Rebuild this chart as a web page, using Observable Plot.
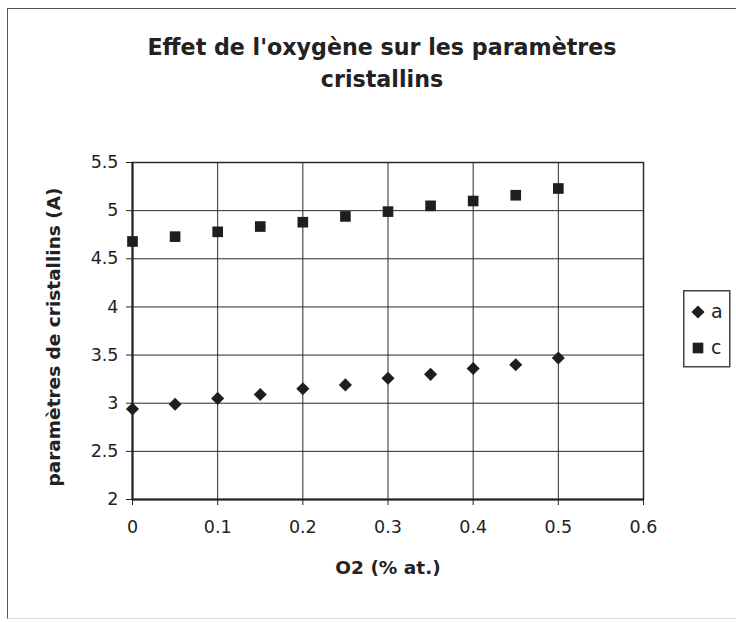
<!DOCTYPE html>
<html>
<head>
<meta charset="utf-8">
<script src="https://cdn.jsdelivr.net/npm/d3@7"></script>
<script src="https://cdn.jsdelivr.net/npm/@observablehq/plot@0.6"></script>
<style>
  html, body { margin: 0; padding: 0; background: #fff; overflow: hidden; }
  #wrap { position: relative; width: 736px; height: 622px; }
  #outer { position: absolute; left: 7px; top: 8px; width: 740px; height: 609px;
           border-left: 1.5px solid #555; border-top: 1.5px solid #555; border-bottom: 1px solid #ddd; }
  #title { position: absolute; left: 82px; top: 31px; width: 600px; text-align: center;
           font-family: "DejaVu Sans", sans-serif; font-weight: bold; font-size: 22.2px;
           line-height: 32px; color: #222; }
  #chart { position: absolute; left: 0; top: 0; }
  #legend { position: absolute; left: 683px; top: 290px; }
</style>
</head>
<body>
<div id="wrap">
  <div id="outer"></div>
  <div id="chart"></div>
  <div id="title">Effet de l'oxygène sur les paramètres<br>cristallins</div>
  <div id="legend"></div>
</div>
<script>
const o2 = [0, 0.05, 0.1, 0.15, 0.2, 0.25, 0.3, 0.35, 0.4, 0.45, 0.5];
const aValues = [2.94, 2.99, 3.05, 3.09, 3.15, 3.19, 3.26, 3.30, 3.36, 3.40, 3.47];
const cValues = [4.68, 4.73, 4.78, 4.835, 4.88, 4.94, 4.99, 5.05, 5.10, 5.16, 5.23];
const seriesNames = ["a", "c"];
const xTicks = [0, 0.1, 0.2, 0.3, 0.4, 0.5, 0.6];
const yTicks = [2, 2.5, 3, 3.5, 4, 4.5, 5, 5.5];
const xLabel = "O2 (% at.)";
const yLabel = "paramètres de cristallins (A)";

const dataA = o2.map((x, i) => ({x, y: aValues[i]}));
const dataC = o2.map((x, i) => ({x, y: cValues[i]}));
const ink = "#1e1e1e";

const chart = Plot.plot({
  width: 736,
  height: 622,
  marginLeft: 132,
  marginRight: 93,
  marginTop: 162,
  marginBottom: 123,
  style: {fontFamily: "DejaVu Sans, sans-serif", fontSize: "17.5px", color: "#222", background: "transparent"},
  x: {domain: [0, 0.6]},
  y: {domain: [2, 5.5]},
  marks: [
    Plot.gridX(xTicks, {stroke: "#2a2a2a", strokeOpacity: 1, strokeWidth: 1}),
    Plot.gridY(yTicks, {stroke: "#2a2a2a", strokeOpacity: 1, strokeWidth: 1}),
    Plot.frame({stroke: "#2a2a2a", strokeWidth: 1.5}),
    Plot.ruleX([0], {stroke: "#222", strokeWidth: 2}),
    Plot.ruleY([2], {stroke: "#222", strokeWidth: 2}),
    Plot.axisX(xTicks, {tickSize: 6, tickPadding: 15, label: null, tickFormat: d => String(d), stroke: "#222"}),
    Plot.axisY(yTicks, {tickSize: 6, tickPadding: 8, label: null, tickFormat: d => String(d), stroke: "#222"}),
    Plot.dot(dataA, {x: "x", y: "y", symbol: "diamond2", r: 5.9, fill: ink, stroke: "none"}),
    Plot.dot(dataC, {x: "x", y: "y", symbol: "square", r: 6, fill: ink, stroke: "none"}),
    Plot.text([yLabel], {text: d => d, frameAnchor: "left", textAnchor: "middle", dx: -78, dy: 6, rotate: -90,
      fontWeight: "bold", fontSize: 18.5, fill: "#222"}),
    Plot.text([xLabel], {text: d => d, frameAnchor: "bottom", textAnchor: "middle", dy: 74,
      fontWeight: "bold", fontSize: 18.5, fill: "#222"})
  ]
});
document.getElementById("chart").appendChild(chart);

// Legend
const lg = d3.select("#legend").append("svg")
  .attr("width", 48).attr("height", 78)
  .style("font-family", "DejaVu Sans, sans-serif");
lg.append("rect").attr("x", 0.75).attr("y", 0.75).attr("width", 46).attr("height", 76)
  .attr("fill", "#fff").attr("stroke", "#444").attr("stroke-width", 1.5);
const symbols = [d3.symbolDiamond2, d3.symbolSquare];
const sizes = [Math.PI * 5.9 * 5.9, Math.PI * 6 * 6];
seriesNames.forEach((name, i) => {
  const cy = i === 0 ? 22 : 58;
  lg.append("path").attr("d", d3.symbol(symbols[i], sizes[i])())
    .attr("transform", `translate(15,${cy})`).attr("fill", ink);
  lg.append("text").attr("x", 28).attr("y", cy + 6).attr("font-size", 19).attr("fill", "#222").text(name);
});
</script>
</body>
</html>
